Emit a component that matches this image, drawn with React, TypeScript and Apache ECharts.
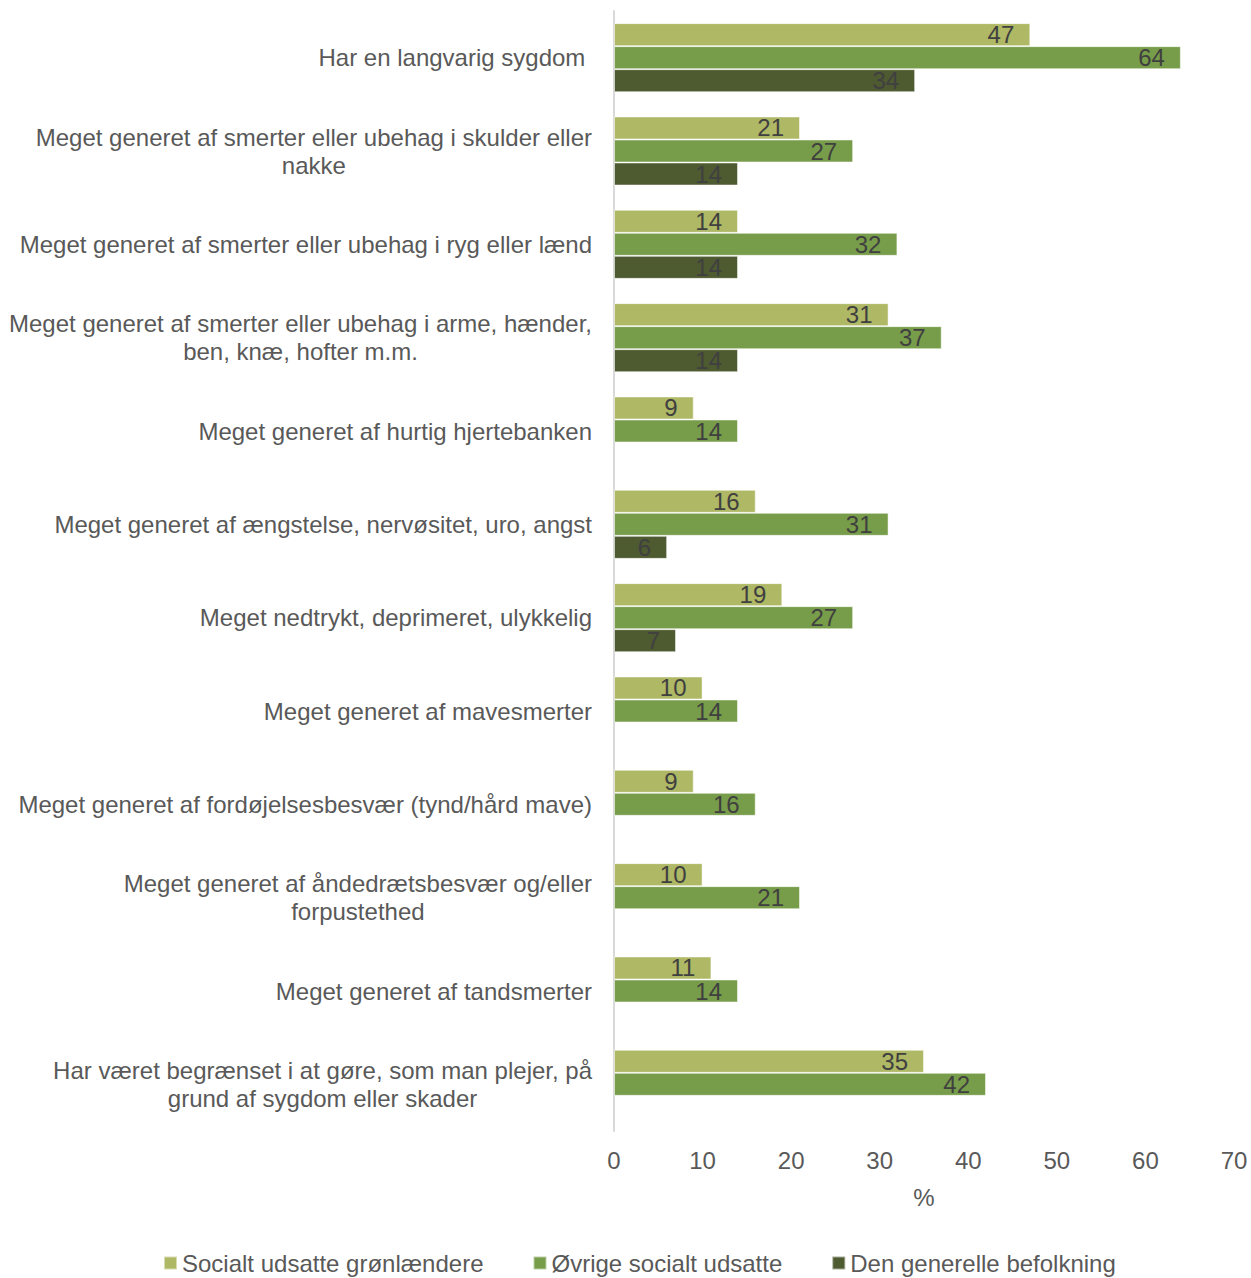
import React, { useEffect, useRef } from "react";
import * as echarts from "echarts";

const categories = [
  "Har en langvarig sygdom ",
  "Meget generet af smerter eller ubehag i skulder eller\nnakke",
  "Meget generet af smerter eller ubehag i ryg eller lænd",
  "Meget generet af smerter eller ubehag i arme, hænder,\nben, knæ, hofter m.m.",
  "Meget generet af hurtig hjertebanken",
  "Meget generet af ængstelse, nervøsitet, uro, angst",
  "Meget nedtrykt, deprimeret, ulykkelig",
  "Meget generet af mavesmerter",
  "Meget generet af fordøjelsesbesvær (tynd/hård mave)",
  "Meget generet af åndedrætsbesvær og/eller\nforpustethed",
  "Meget generet af tandsmerter",
  "Har været begrænset i at gøre, som man plejer, på\ngrund af sygdom eller skader",
];

const seriesNames = [
  "Socialt udsatte grønlændere",
  "Øvrige socialt udsatte",
  "Den generelle befolkning",
];

const greenlanders = [47, 21, 14, 31, 9, 16, 19, 10, 9, 10, 11, 35];
const otherVulnerable = [64, 27, 32, 37, 14, 31, 27, 14, 16, 21, 14, 42];
const generalPopulation = [34, 14, 14, 14, null, 6, 7, null, null, null, null, null];

const colors = ["#afb865", "#789d4a", "#4e5a30"];

export default function App() {
  const ref = useRef<HTMLDivElement>(null);
  useEffect(() => {
    document.body.style.margin = "0";
    const chart = echarts.init(ref.current!, null, { renderer: "svg" });
    const font = "Liberation Sans, Arial, sans-serif";
    const fs = 24;
    const mk = (name: string, data: (number | null)[], color: string) => ({
      name,
      type: "bar",
      data,
      barGap: "0%",
      barCategoryGap: "26%",
      itemStyle: { color, borderColor: "rgba(255,255,255,0.5)", borderWidth: 1 },
      label: {
        show: true,
        position: "insideRight",
        distance: 16,
        color: "#404040",
        fontSize: fs,
        fontFamily: font,
      },
    });
    chart.setOption({
      animation: false,
      textStyle: { fontFamily: font },
      grid: { left: 614, right: 17, top: 11, height: 1120, containLabel: false },
      legend: {
        top: 1251,
        left: 163,
        padding: 0,
        itemWidth: 13,
        itemHeight: 13,
        itemGap: 49,
        icon: "rect",
        textStyle: { color: "#595959", fontSize: fs, fontFamily: font },
        data: seriesNames,
      },
      xAxis: {
        type: "value",
        min: 0,
        max: 70,
        interval: 10,
        name: "%",
        nameLocation: "middle",
        nameGap: 54,
        nameTextStyle: { color: "#595959", fontSize: fs, fontFamily: font },
        axisLine: { show: false },
        axisTick: { show: false },
        splitLine: { show: false },
        axisLabel: { color: "#595959", fontSize: fs, fontFamily: font, margin: 17 },
      },
      yAxis: {
        type: "category",
        inverse: true,
        data: categories,
        axisLine: { show: true, lineStyle: { color: "#d9d9d9", width: 2 } },
        axisTick: { show: false },
        axisLabel: {
          color: "#595959",
          fontSize: fs,
          fontFamily: font,
          margin: 22,
          lineHeight: 28,
          formatter: (v: string) =>
            v
              .split("\n")
              .map((l) => `{c|${l}}`)
              .join("\n"),
          rich: { c: { align: "center", fontSize: fs, lineHeight: 28, color: "#595959", fontFamily: font } },
        },
      },
      series: [
        mk(seriesNames[0], greenlanders, colors[0]),
        mk(seriesNames[1], otherVulnerable, colors[1]),
        mk(seriesNames[2], generalPopulation, colors[2]),
      ],
    });
    return () => chart.dispose();
  }, []);
  return <div ref={ref} style={{ width: 1251, height: 1278 }} />;
}
